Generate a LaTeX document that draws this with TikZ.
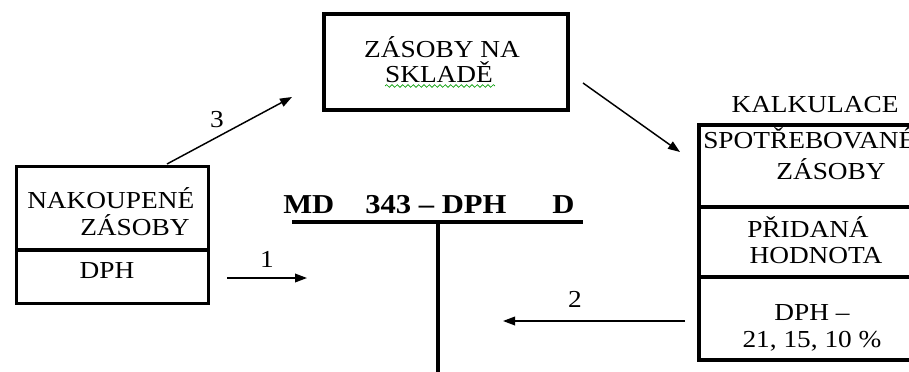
\documentclass[tikz,border=0pt]{standalone}
\usepackage{fontspec}
\setmainfont[FakeStretch=1.12]{Liberation Serif}
\usetikzlibrary{arrows.meta,positioning,decorations.pathmorphing}

\begin{document}
\begin{tikzpicture}[x=0.75pt,y=-0.75pt,
    every node/.style={font=\fontsize{18.3}{22}\selectfont},
    box/.style={draw,rectangle,line width=2.6pt,inner sep=0pt,outer sep=0pt},
    txt/.style={inner sep=0pt,anchor=base},
    txtw/.style={inner sep=0pt,anchor=base west},
    hd/.style={inner sep=0pt,anchor=base west,font=\fontsize{20.5}{24}\selectfont\bfseries},
    arr/.style={-{Triangle[length=9pt,width=6.5pt]},line width=1.1pt}]
  \clip (0,0) rectangle (909,371);
  % boxes
  \node[box,minimum width=144pt,minimum height=62.6pt] (nakup) at (112.5,208) {};
  \node[box,minimum width=144pt,minimum height=40pt] (dphL) at (112.5,277) {};
  \node[box,line width=3pt,minimum width=183pt,minimum height=72pt] (sklad) at (446,62) {};
  \node[box,minimum width=184.5pt,minimum height=61.5pt] (spotr) at (822,166) {};
  \node[box,minimum width=184.5pt,minimum height=52.5pt] (prid) at (822,242) {};
  \node[box,minimum width=184.5pt,minimum height=62.25pt] (dphR) at (822,318.5) {};
  % texts
  \node[txtw] (t1) at (27,208) {NAKOUPENÉ};
  \node[txtw] (t2) at (80,235) {ZÁSOBY};
  \node[txt] (t3) at (107,278) {DPH};
  \node[txt] (t4) at (442,57) {ZÁSOBY NA};
  \node[txt] (t5) at (439,82) {SKLADĚ};
  \draw[green!60!black,line width=0.5pt,decorate,
    decoration={snake,amplitude=1pt,segment length=4pt}] (385,86) -- (495,86);
  \node[txt] (t6) at (815,112) {KALKULACE};
  \node[txtw] (t7) at (703,148) {SPOTŘEBOVANÉ};
  \node[txt] (t8) at (831,179) {ZÁSOBY};
  \node[txt] (t9) at (808,237) {PŘIDANÁ};
  \node[txt] (t10) at (816,263) {HODNOTA};
  \node[txt] (t11) at (812,320) {DPH –};
  \node[txt] (t12) at (812,347) {21, 15, 10 \%};
  % T account
  \node[hd] (md) at (283,213) {MD};
  \node[hd] (ucet) at (365,213) {343 – DPH};
  \node[hd] (dal) at (552,213) {D};
  \coordinate (tl) at (292,222);
  \coordinate (tr) at (583,222);
  \coordinate (tm) at (438,222);
  \coordinate (tb) at (438,380);
  \draw[line width=3pt] (tl) -- (tr);
  \draw[line width=3pt] (tm) -- (tb);
  % arrows
  \coordinate (a1s) at (227,278);
  \coordinate (a1e) at (307,278);
  \coordinate (a2s) at (685,321);
  \coordinate (a2e) at (503,321);
  \coordinate (a3s) at (167,164);
  \coordinate (a3e) at (292,97);
  \coordinate (a4s) at (583,83);
  \coordinate (a4e) at (680,152);
  \draw[arr] (a1s) -- (a1e);
  \draw[arr] (a2s) -- (a2e);
  \draw[arr] (a3s) -- (a3e);
  \draw[arr] (a4s) -- (a4e);
  \node[txt] (n1) at (267,267) {1};
  \node[txt] (n2) at (575,307) {2};
  \node[txt] (n3) at (217,127) {3};
\end{tikzpicture}
\end{document}
